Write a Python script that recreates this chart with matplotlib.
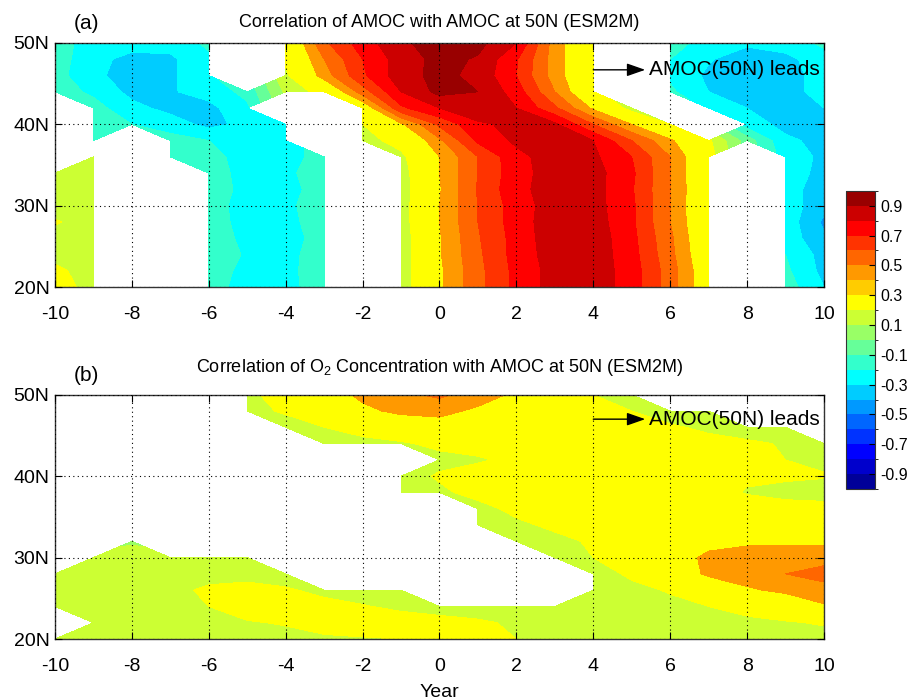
import numpy as np
import matplotlib
matplotlib.use('Agg')
import matplotlib.pyplot as plt
from matplotlib.colors import ListedColormap, BoundaryNorm
import matplotlib.cm as cm

# ===== Data ===== #

# lag in years (x) and latitude rows (top row = 50N)
lags = np.arange(-10, 11)
lats = np.arange(50, 19, -2)
N = np.nan

# (a) correlation of AMOC with AMOC at 50N, NaN = not significant
amoc_corr = [
    [-0.15, -0.25, -0.26, -0.26, -0.18, N, 0.25, 0.58, 0.75, 0.88, 0.95, 0.93, 0.80, 0.45, 0.25, N, -0.15, -0.25, -0.28, -0.25, -0.18],
    [-0.15, -0.27, -0.33, -0.32, -0.22, N, 0.22, 0.50, 0.70, 0.85, 0.93, 0.89, 0.71, 0.45, 0.25, N, -0.20, -0.29, -0.36, -0.33, -0.24],
    [-0.16, -0.28, -0.34, -0.32, -0.21, N, 0.18, 0.45, 0.68, 0.86, 0.93, 0.87, 0.70, 0.45, 0.25, N, -0.22, -0.32, -0.38, -0.35, -0.25],
    [-0.15, -0.22, -0.33, -0.31, -0.26, -0.17, 0.12, 0.25, 0.55, 0.80, 0.93, 0.90, 0.75, 0.50, 0.25, N, -0.18, -0.30, -0.36, -0.34, -0.26],
    [N, -0.16, -0.27, -0.33, -0.33, -0.22, N, N, 0.30, 0.68, 0.80, 0.88, 0.80, 0.62, 0.38, 0.15, N, -0.22, -0.30, -0.33, -0.30],
    [N, -0.15, -0.20, -0.25, -0.33, -0.27, -0.22, N, 0.20, 0.38, 0.62, 0.78, 0.83, 0.82, 0.60, 0.40, 0.20, N, -0.25, -0.33, -0.38],
    [N, -0.15, N, -0.16, -0.20, -0.27, -0.25, N, 0.15, 0.25, 0.48, 0.72, 0.82, 0.85, 0.80, 0.60, 0.42, 0.22, -0.05, -0.28, -0.33],
    [N, 0.15, N, -0.16, -0.16, -0.25, -0.25, -0.15, N, 0.17, 0.40, 0.60, 0.77, 0.85, 0.82, 0.70, 0.50, 0.25, N, -0.25, -0.32],
    [0.15, 0.15, N, N, -0.15, -0.24, -0.22, -0.15, N, 0.14, 0.40, 0.60, 0.76, 0.85, 0.84, 0.72, 0.50, 0.25, N, -0.25, -0.33],
    [0.16, 0.15, N, N, -0.15, -0.23, -0.23, -0.16, N, 0.14, 0.39, 0.61, 0.77, 0.85, 0.84, 0.71, 0.50, 0.26, N, -0.26, -0.35],
    [0.15, 0.15, N, N, -0.16, -0.24, -0.22, -0.15, N, 0.14, 0.40, 0.60, 0.75, 0.85, 0.84, 0.72, 0.50, 0.25, N, -0.25, -0.36],
    [0.21, 0.15, N, N, -0.15, -0.24, -0.23, -0.15, N, 0.14, 0.40, 0.60, 0.75, 0.86, 0.85, 0.72, 0.50, 0.26, N, -0.24, -0.42],
    [0.16, 0.15, N, N, -0.16, -0.22, -0.24, -0.16, N, 0.13, 0.39, 0.59, 0.74, 0.86, 0.86, 0.73, 0.52, 0.27, N, -0.24, -0.38],
    [0.17, 0.15, N, N, -0.15, -0.21, -0.23, -0.15, N, 0.13, 0.39, 0.58, 0.74, 0.85, 0.86, 0.74, 0.53, 0.28, N, -0.20, -0.34],
    [0.22, 0.16, N, N, -0.15, -0.23, -0.22, -0.16, N, 0.13, 0.38, 0.57, 0.73, 0.84, 0.86, 0.75, 0.55, 0.30, N, -0.18, -0.33],
    [0.25, 0.16, N, N, -0.16, -0.24, -0.23, -0.15, N, 0.13, 0.38, 0.57, 0.73, 0.84, 0.86, 0.75, 0.55, 0.30, N, -0.15, -0.30],
]

# (b) correlation of O2 concentration with AMOC at 50N
o2_corr = [
    [N, N, N, N, N, 0.15, 0.30, 0.35, 0.42, 0.48, 0.52, 0.45, 0.38, 0.30, 0.20, 0.13, N, N, N, N, N],
    [N, N, N, N, N, 0.15, 0.22, 0.32, 0.38, 0.42, 0.43, 0.38, 0.32, 0.28, 0.25, 0.20, 0.13, 0.12, N, N, N],
    [N, N, N, N, N, N, 0.13, 0.20, 0.28, 0.33, 0.35, 0.33, 0.30, 0.27, 0.26, 0.25, 0.22, 0.17, 0.14, 0.12, N],
    [N, N, N, N, N, N, N, 0.12, 0.14, 0.18, 0.24, 0.27, 0.28, 0.30, 0.30, 0.28, 0.27, 0.25, 0.22, 0.19, 0.14],
    [N, N, N, N, N, N, N, N, N, N, 0.15, 0.18, 0.24, 0.27, 0.28, 0.28, 0.27, 0.25, 0.22, 0.20, 0.17],
    [N, N, N, N, N, N, N, N, N, 0.13, 0.22, 0.28, 0.30, 0.30, 0.30, 0.30, 0.28, 0.25, 0.22, 0.22, 0.21],
    [N, N, N, N, N, N, N, N, N, 0.13, 0.17, 0.25, 0.30, 0.32, 0.33, 0.33, 0.30, 0.25, 0.19, 0.16, 0.14],
    [N, N, N, N, N, N, N, N, N, N, N, 0.15, 0.24, 0.30, 0.33, 0.33, 0.32, 0.30, 0.27, 0.25, 0.25],
    [N, N, N, N, N, N, N, N, N, N, N, 0.12, 0.17, 0.23, 0.30, 0.33, 0.33, 0.32, 0.30, 0.30, 0.30],
    [N, N, 0.09, N, N, N, N, N, N, N, N, N, 0.12, 0.16, 0.22, 0.30, 0.33, 0.37, 0.38, 0.38, 0.38],
    [N, 0.12, 0.13, 0.12, 0.12, 0.11, N, N, N, N, N, N, N, 0.12, 0.20, 0.30, 0.35, 0.42, 0.45, 0.45, 0.45],
    [0.12, 0.15, 0.15, 0.15, 0.16, 0.15, 0.12, N, N, N, N, N, N, N, 0.15, 0.22, 0.32, 0.42, 0.47, 0.50, 0.55],
    [0.15, 0.16, 0.17, 0.17, 0.22, 0.25, 0.22, 0.16, 0.13, 0.11, N, N, N, N, 0.12, 0.17, 0.21, 0.30, 0.38, 0.43, 0.45],
    [0.13, 0.16, 0.17, 0.18, 0.20, 0.26, 0.28, 0.25, 0.21, 0.17, 0.14, 0.13, 0.13, 0.13, 0.14, 0.15, 0.17, 0.20, 0.23, 0.28, 0.39],
    [N, 0.13, 0.15, 0.16, 0.17, 0.19, 0.21, 0.25, 0.27, 0.27, 0.25, 0.22, 0.18, 0.15, 0.14, 0.15, 0.16, 0.17, 0.18, 0.19, 0.21],
    [0.12, 0.13, 0.14, 0.14, 0.15, 0.15, 0.16, 0.18, 0.19, 0.20, 0.22, 0.22, 0.20, 0.16, 0.15, 0.15, 0.15, 0.15, 0.15, 0.16, 0.16],
]

x_ticks = np.arange(-10, 11, 2)
y_ticks = [20, 30, 40, 50]
y_labels = ['20N', '30N', '40N', '50N']
cbar_ticks = np.arange(-0.9, 1.0, 0.2)

# ===== Style ===== #

plt.rcParams['font.family'] = ['Liberation Sans', 'DejaVu Sans']
plt.rcParams['mathtext.fontset'] = 'custom'
plt.rcParams['mathtext.rm'] = 'Liberation Sans'
plt.rcParams['mathtext.default'] = 'regular'
plt.rcParams['axes.unicode_minus'] = False

# MATLAB jet(20)
jet20 = ['#000099', '#0000CC', '#0000FF', '#0033FF', '#0066FF', '#0099FF',
         '#00CCFF', '#00FFFF', '#33FFCC', '#66FF99', '#99FF66', '#CCFF33',
         '#FFFF00', '#FFCC00', '#FF9900', '#FF6600', '#FF3300', '#FF0000',
         '#CC0000', '#990000']
levels = np.linspace(-1, 1, 21)

# the panels themselves show no separate 0.3-0.4 shade
fill_colors = list(jet20)
fill_colors[13] = '#FFFF00'
fill_cmap = ListedColormap(fill_colors)
fill_norm = BoundaryNorm(levels, fill_cmap.N)


def draw_panel(ax, values, title, letter, title_pad):
    z = np.array(values)[::-1]
    ax.contourf(lags, lats[::-1], z, levels=levels, cmap=fill_cmap,
                norm=fill_norm, antialiased=False)
    ax.set_xlim(-10, 10)
    ax.set_ylim(20, 50)
    ax.set_xticks(x_ticks)
    ax.set_yticks(y_ticks)
    ax.set_yticklabels(y_labels)
    ax.tick_params(direction='in', length=5, top=True, right=True,
                   labelsize=14, width=0.8)
    ax.tick_params(axis='x', pad=14)
    ax.tick_params(axis='y', pad=4)
    ax.set_axisbelow(False)
    ax.grid(True, color='k', linestyle=(0, (1, 3)), linewidth=0.8)
    for s in ax.spines.values():
        s.set_color('#333333')
        s.set_linewidth(1.0)
    ax.set_title(title, fontsize=13, pad=title_pad)
    ax.text(0.025, 1.056, letter, transform=ax.transAxes, fontsize=15,
            va='baseline', ha='left')


fig = plt.figure(figsize=(9.12, 7.0), dpi=100)
ax_a = fig.add_axes([0.0603, 0.590, 0.8432, 0.3486])
ax_b = fig.add_axes([0.0603, 0.0871, 0.8432, 0.349])
cax = fig.add_axes([0.9273, 0.3014, 0.0325, 0.426])

draw_panel(ax_a, amoc_corr, 'Correlation of AMOC with AMOC at 50N (ESM2M)',
           '(a)', 11.5)
draw_panel(ax_b, o2_corr,
           'Correlation of O$_2$ Concentration with AMOC at 50N (ESM2M)',
           '(b)', 16.5)
ax_b.set_xlabel('Year', fontsize=14, labelpad=6)

# lead arrows
for ax, yy in [(ax_a, 46.7), (ax_b, 47.0)]:
    ax.annotate('', xy=(5.35, yy), xytext=(4.0, yy),
                arrowprops=dict(arrowstyle='-|>,head_length=0.8,head_width=0.28',
                                color='k', lw=1.0, mutation_scale=14,
                                shrinkA=0, shrinkB=0))
    ax.text(5.45, yy, 'AMOC(50N) leads', fontsize=15, va='center', ha='left')

# colorbar
cb_cmap = ListedColormap(jet20)
cb_norm = BoundaryNorm(levels, cb_cmap.N)
sm = cm.ScalarMappable(norm=cb_norm, cmap=cb_cmap)
cb = fig.colorbar(sm, cax=cax, ticks=cbar_ticks)
cb.ax.set_yticklabels(['%.1f' % t for t in cbar_ticks])
cb.ax.tick_params(direction='in', length=4, labelsize=11.5, width=0.8)
cb.outline.set_edgecolor('#333333')

fig.savefig('out.png', dpi=100)
